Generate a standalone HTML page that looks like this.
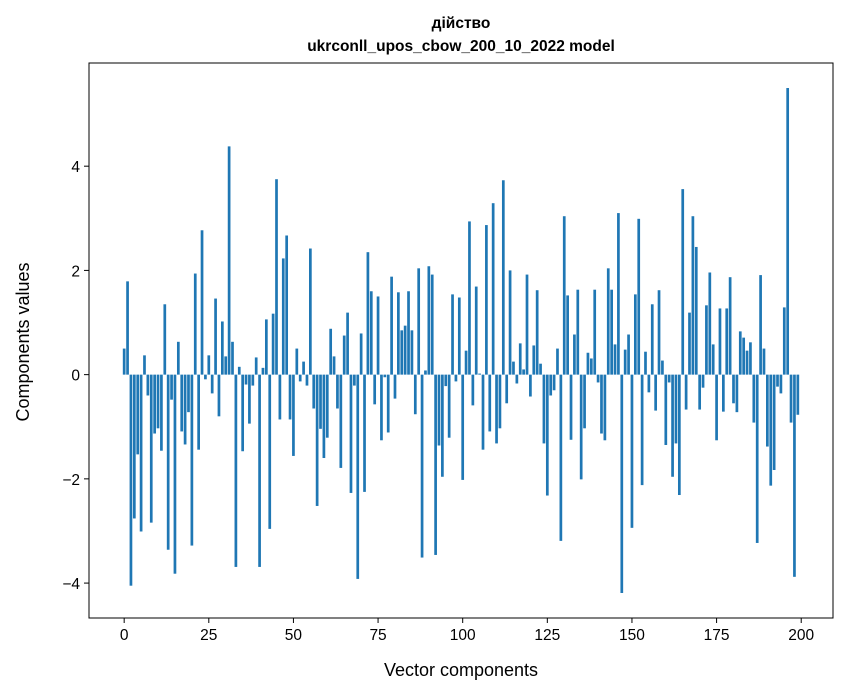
<!DOCTYPE html>
<html><head><meta charset="utf-8">
<style>
body{margin:0;background:#fff;}
svg{display:block;font-family:"Liberation Sans","DejaVu Sans",sans-serif;}
</style></head>
<body>
<svg id="chart" width="847" height="696" viewBox="0 0 847 696" xmlns="http://www.w3.org/2000/svg">
<rect width="847" height="696" fill="#fff"/>
<text x="461" y="28" text-anchor="middle" font-size="15.5" font-weight="bold">дійство</text>
<text x="461" y="51" text-anchor="middle" font-size="15.5" font-weight="bold">ukrconll_upos_cbow_200_10_2022 model</text>
<g id="bars"></g>
<g id="xticks"></g>
<g id="yticks"></g>
<rect x="89" y="63" width="744" height="555" fill="none" stroke="#000" stroke-width="1"/>
<text x="461" y="676" text-anchor="middle" font-size="18">Vector components</text>
<text transform="translate(29,342) rotate(-90)" text-anchor="middle" font-size="18">Components values</text>
</svg>
<script>
const values = [
0.50,1.79,-4.05,-2.76,-1.53,-3.01,0.37,-0.40,-2.84,-1.13,
-1.03,-1.46,1.35,-3.36,-0.48,-3.82,0.63,-1.09,-1.34,-0.72,
-3.28,1.94,-1.44,2.77,-0.09,0.37,-0.36,1.46,-0.80,1.02,
0.35,4.38,0.63,-3.69,0.15,-1.47,-0.19,-0.94,-0.21,0.33,
-3.69,0.13,1.06,-2.96,1.17,3.75,-0.86,2.23,2.67,-0.86,
-1.56,0.50,-0.13,0.25,-0.21,2.42,-0.65,-2.52,-1.04,-1.60,
-1.21,0.88,0.35,-0.65,-1.79,0.75,1.19,-2.27,-0.21,-3.92,
0.79,-2.25,2.35,1.60,-0.57,1.50,-1.26,-0.05,-1.11,1.88,
-0.46,1.58,0.85,0.94,1.60,0.85,-0.76,2.04,-3.51,0.08,
2.08,1.92,-3.46,-1.36,-1.96,-0.22,-1.21,1.54,-0.13,1.48,
-2.02,0.46,2.94,-0.59,1.69,0.02,-1.44,2.87,-1.09,3.29,
-1.32,-1.03,3.73,-0.55,2.00,0.25,-0.17,0.60,0.10,1.92,
-0.42,0.56,1.62,0.21,-1.32,-2.32,-0.40,-0.30,0.50,-3.19,
3.04,1.52,-1.25,0.77,1.63,-2.01,-1.03,0.42,0.31,1.63,
-0.15,-1.13,-1.26,2.04,1.63,0.58,3.10,-4.19,0.48,0.77,
-2.94,1.54,2.99,-2.12,0.44,-0.34,1.35,-0.69,1.62,0.27,
-1.35,-0.15,-1.96,-1.32,-2.31,3.56,-0.67,1.19,3.04,2.45,
-0.67,-0.25,1.33,1.96,0.58,-1.26,1.27,-0.71,1.27,1.87,
-0.55,-0.72,0.83,0.71,0.46,0.62,-0.92,-3.23,1.91,0.50,
-1.38,-2.13,-1.83,-0.23,-0.36,1.29,5.50,-0.92,-3.88,-0.77
];
const xTickValues = [0,25,50,75,100,125,150,175,200];
const yTickValues = [-4,-2,0,2,4];
const yTickLabels = ["\u22124","\u22122","0","2","4"];

const NS = "http://www.w3.org/2000/svg";
const L=89,R=833,T=63,B=618;
const xMin=-10.39,xMax=209.39;
const yMin=-4.67,yMax=5.98;
function xs(v){return L+(v-xMin)/(xMax-xMin)*(R-L);}
function ys(v){return B-(v-yMin)/(yMax-yMin)*(B-T);}
const barsG=document.getElementById('bars');
const bw=(xs(0.8)-xs(0));
values.forEach((v,i)=>{
  const r=document.createElementNS(NS,'rect');
  
  
  const y0=ys(0),y1=ys(v);
  r.setAttribute('x',xs(i)-bw/2);
  r.setAttribute('width',bw);
  r.setAttribute('y',Math.min(y0,y1));
  r.setAttribute('height',Math.abs(y1-y0));
  r.setAttribute('fill','#1f77b4');
  barsG.appendChild(r);
});
const xg=document.getElementById('xticks');
xTickValues.forEach(t=>{
  const x=xs(t);
  const l=document.createElementNS(NS,'line');
  
  
  l.setAttribute('x1',x);l.setAttribute('x2',x);
  l.setAttribute('y1',B);l.setAttribute('y2',B+5);
  l.setAttribute('stroke','#000');
  xg.appendChild(l);
  const tx=document.createElementNS(NS,'text');
  
  
  tx.setAttribute('x',x);tx.setAttribute('y',B+22);
  tx.setAttribute('text-anchor','middle');
  tx.setAttribute('font-size','15.5');
  tx.textContent=String(t);
  xg.appendChild(tx);
});
const yg=document.getElementById('yticks');
yTickValues.forEach((t,i)=>{
  const y=ys(t);
  const l=document.createElementNS(NS,'line');
  
  
  l.setAttribute('x1',L-5);l.setAttribute('x2',L);
  l.setAttribute('y1',y);l.setAttribute('y2',y);
  l.setAttribute('stroke','#000');
  yg.appendChild(l);
  const tx=document.createElementNS(NS,'text');
  
  
  tx.setAttribute('x',L-9);tx.setAttribute('y',y+6);
  tx.setAttribute('text-anchor','end');
  tx.setAttribute('font-size','15.5');
  tx.textContent=yTickLabels[i];
  yg.appendChild(tx);
});
</script>
</body></html>
